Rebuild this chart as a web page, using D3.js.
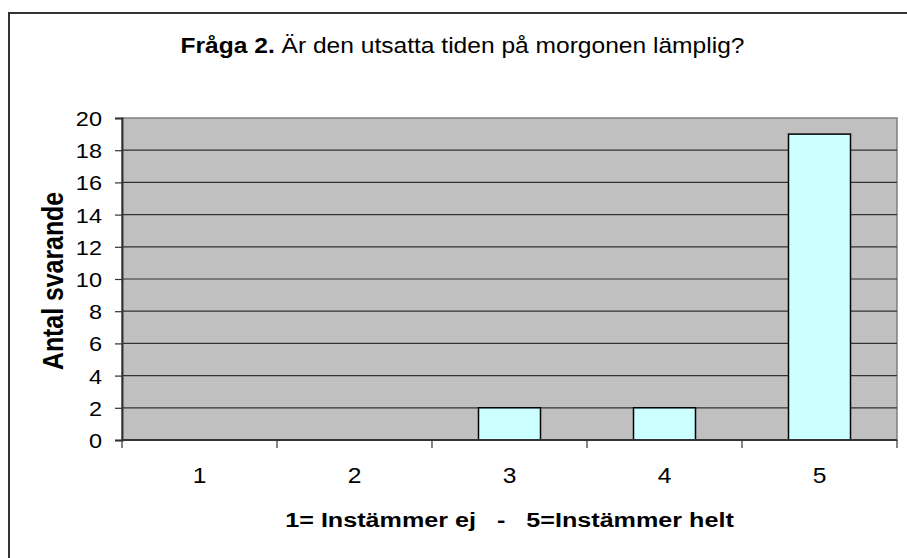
<!DOCTYPE html>
<html><head><meta charset="utf-8">
<script src="https://cdn.jsdelivr.net/npm/d3@7"></script>
<style>body{margin:0;background:#fff}svg{display:block}text{font-family:Arial,"Liberation Sans",sans-serif;fill:#000}</style>
</head><body>
<svg id="c" width="907" height="558"></svg>
<script>
const categories = ["1","2","3","4","5"];
const values = [0, 0, 2, 2, 19];
const yTicks = [0,2,4,6,8,10,12,14,16,18,20];
const titleBold = "Fråga 2.";
const titleRest = " Är den utsatta tiden på morgonen lämplig?";
const yTitle = "Antal svarande";
const xTitle = "1= Instämmer ej\u00a0\u00a0\u00a0-\u00a0\u00a0\u00a05=Instämmer helt";

const svg = d3.select("#c");
const L = 122, T = 118, R = 897, B = 440;
const SX = 1.12; // horizontal stretch of the reference's lettering

svg.append("rect").attr("x",9).attr("y",13).attr("width",910).attr("height",560)
  .attr("fill","#fff").attr("stroke","#333").attr("stroke-width",2);

const x = d3.scaleBand().domain(categories).range([L,R]).paddingInner(0.6).paddingOuter(0.3);
const xb = d3.scaleBand().domain(categories).range([L,R]);
const y = d3.scaleLinear().domain([0,20]).range([B,T]);

svg.append("rect").attr("x",L).attr("y",T).attr("width",R-L).attr("height",B-T)
  .attr("fill","#c0c0c0").attr("stroke","#808080").attr("stroke-width",1.5);

svg.append("g").selectAll("line").data(yTicks.filter(d=>d>0&&d<20)).join("line")
  .attr("x1",L).attr("x2",R).attr("y1",d=>y(d)).attr("y2",d=>y(d))
  .attr("stroke","#333").attr("stroke-width",1.2);

svg.append("g").selectAll("rect").data(values).join("rect")
  .attr("x",(d,i)=>x(categories[i])).attr("width",x.bandwidth())
  .attr("y",d=>y(d)).attr("height",d=>y(0)-y(d))
  .attr("fill","#ccffff").attr("stroke","#000").attr("stroke-width",1.5)
  .style("display",d=>d>0?null:"none");

// y axis
const ya = svg.append("g").attr("transform",`translate(${L},0)`)
  .call(d3.axisLeft(y).tickValues(yTicks).tickSize(7).tickPadding(12));
ya.select(".domain").attr("stroke","#333").attr("stroke-width",2);
ya.selectAll(".tick line").attr("stroke","#333").attr("stroke-width",1.2);
ya.selectAll("text").attr("font-size",21).attr("x",0).attr("dy","0.36em")
  .attr("transform",`translate(-20,0) scale(${SX},1)`)
  .attr("font-family","Arial, 'Liberation Sans', sans-serif").attr("fill","#000");

// x axis
const xa = svg.append("g").attr("transform",`translate(0,${B})`)
  .call(d3.axisBottom(xb).tickSize(0).tickPadding(0));
xa.select(".domain").remove();
xa.selectAll(".tick line").remove();
xa.selectAll("text").attr("font-size",22).attr("dy",0).attr("y",0)
  .attr("transform",`translate(0,43) scale(${SX},1)`)
  .attr("font-family","Arial, 'Liberation Sans', sans-serif").attr("fill","#000");
svg.append("line").attr("x1",L).attr("x2",R).attr("y1",B).attr("y2",B).attr("stroke","#333").attr("stroke-width",2);
svg.append("g").selectAll("line").data(categories.concat(["end"])).join("line")
  .attr("x1",(d,i)=>L+i*xb.step()).attr("x2",(d,i)=>L+i*xb.step())
  .attr("y1",B).attr("y2",B+8).attr("stroke","#333").attr("stroke-width",1.2);

// titles
const t = svg.append("text").attr("transform","translate(462.5,53) scale(1.117,1)")
  .attr("text-anchor","middle").attr("font-size",22);
t.append("tspan").attr("font-weight","bold").text(titleBold);
t.append("tspan").text(titleRest);

svg.append("text").attr("transform",`translate(63,281) rotate(-90) scale(0.857,1)`)
  .attr("text-anchor","middle").attr("font-size",29).attr("font-weight","bold").text(yTitle);

svg.append("text").attr("transform",`translate(${(L+R)/2},527) scale(1.198,1)`).attr("text-anchor","middle")
  .attr("font-size",21).attr("font-weight","bold").text(xTitle);
</script>
</body></html>
